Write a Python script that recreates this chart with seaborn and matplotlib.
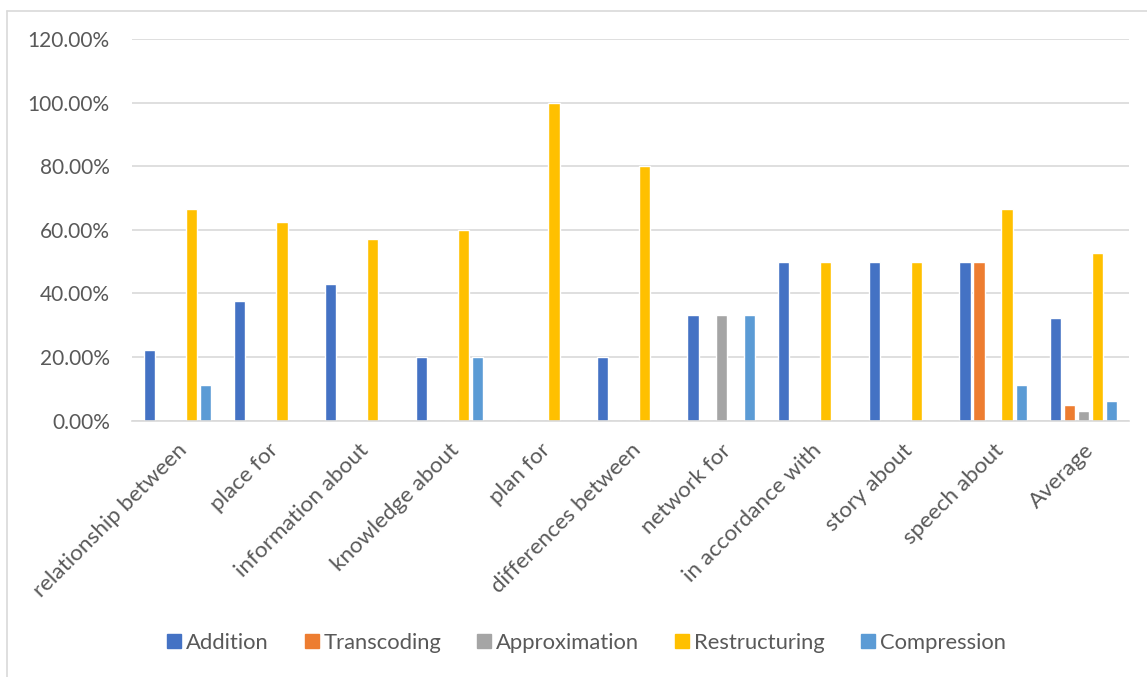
import matplotlib
matplotlib.use("Agg")
import matplotlib.pyplot as plt
import seaborn as sns
import pandas as pd
from matplotlib.ticker import FuncFormatter, MultipleLocator
from matplotlib.lines import Line2D

categories = ["relationship between", "place for", "information about", "knowledge about",
              "plan for", "differences between", "network for", "in accordance with",
              "story about", "speech about", "Average"]
series = ["Addition", "Transcoding", "Approximation", "Restructuring", "Compression"]

addition      = [22.22, 37.50, 42.86, 20.00, 0.00, 20.00, 33.33, 50.00, 50.00, 50.00, 32.40]
transcoding   = [0.00, 0.00, 0.00, 0.00, 0.00, 0.00, 0.00, 0.00, 0.00, 50.00, 4.80]
approximation = [0.00, 0.00, 0.00, 0.00, 0.00, 0.00, 33.33, 0.00, 0.00, 0.00, 3.10]
restructuring = [66.67, 62.50, 57.14, 60.00, 100.00, 80.00, 0.00, 50.00, 50.00, 66.67, 52.60]
compression   = [11.11, 0.00, 0.00, 20.00, 0.00, 0.00, 33.33, 0.00, 0.00, 11.11, 6.20]

colors = ["#4472C4", "#ED7D31", "#A5A5A5", "#FFC000", "#5B9BD5"]

values = {"Addition": addition, "Transcoding": transcoding, "Approximation": approximation,
          "Restructuring": restructuring, "Compression": compression}
rows = []
for s in series:
    for c, v in zip(categories, values[s]):
        rows.append({"category": c, "series": s, "value": v})
df = pd.DataFrame(rows)

sns.set_theme(style="white")
plt.rcParams["font.family"] = ["Lato", "DejaVu Sans"]
text_color = "#595959"

fig = plt.figure(figsize=(11.47, 6.77), dpi=100)
ax = fig.add_axes([132/1147, 1 - 420.7/677, (1129-132)/1147, (420.7-39)/677])

sns.barplot(data=df, x="category", y="value", hue="series", order=categories,
            hue_order=series, palette=colors, ax=ax, width=0.775, gap=0.2,
            legend=False, saturation=1)

ax.set_ylim(0, 120)
ax.set_xlim(-0.5, len(categories) - 0.5)
ax.yaxis.set_major_locator(MultipleLocator(20))
ax.yaxis.set_major_formatter(FuncFormatter(lambda v, p: f"{v:.2f}%"))
ax.grid(axis="y", color="#D9D9D9", linewidth=1.2)
ax.set_axisbelow(True)
for s in ["left", "right", "top"]:
    ax.spines[s].set_visible(False)
ax.spines["bottom"].set_color("#D9D9D9")
ax.spines["bottom"].set_linewidth(1.2)
ax.tick_params(axis="both", length=0, colors=text_color)
ax.tick_params(axis="y", pad=16, labelsize=15)
ax.tick_params(axis="x", pad=14, labelsize=16.2)
ax.set_xlabel("")
ax.set_ylabel("")
plt.setp(ax.get_xticklabels(), rotation=45, ha="right", rotation_mode="anchor")

handles = [Line2D([0], [0], marker="s", linestyle="", markersize=10.5,
                  markerfacecolor=c, markeredgecolor=c) for c in colors]
leg = fig.legend(handles, series, loc="center", bbox_to_anchor=(0.51, 1 - 643/677),
                 ncol=5, frameon=False, fontsize=15.8, handletextpad=0.1,
                 columnspacing=1.5, handlelength=0.9)
for t in leg.get_texts():
    t.set_color(text_color)

# outer chart border (top and left edges visible in the crop)
border_y = 1 - 11/677
border_x = 7/1147
fig.add_artist(Line2D([border_x, 1.0], [border_y, border_y], transform=fig.transFigure,
                      color="#D9D9D9", linewidth=1.2))
fig.add_artist(Line2D([border_x, border_x], [0.0, border_y], transform=fig.transFigure,
                      color="#D9D9D9", linewidth=1.2))

fig.savefig("out.png", dpi=100)
